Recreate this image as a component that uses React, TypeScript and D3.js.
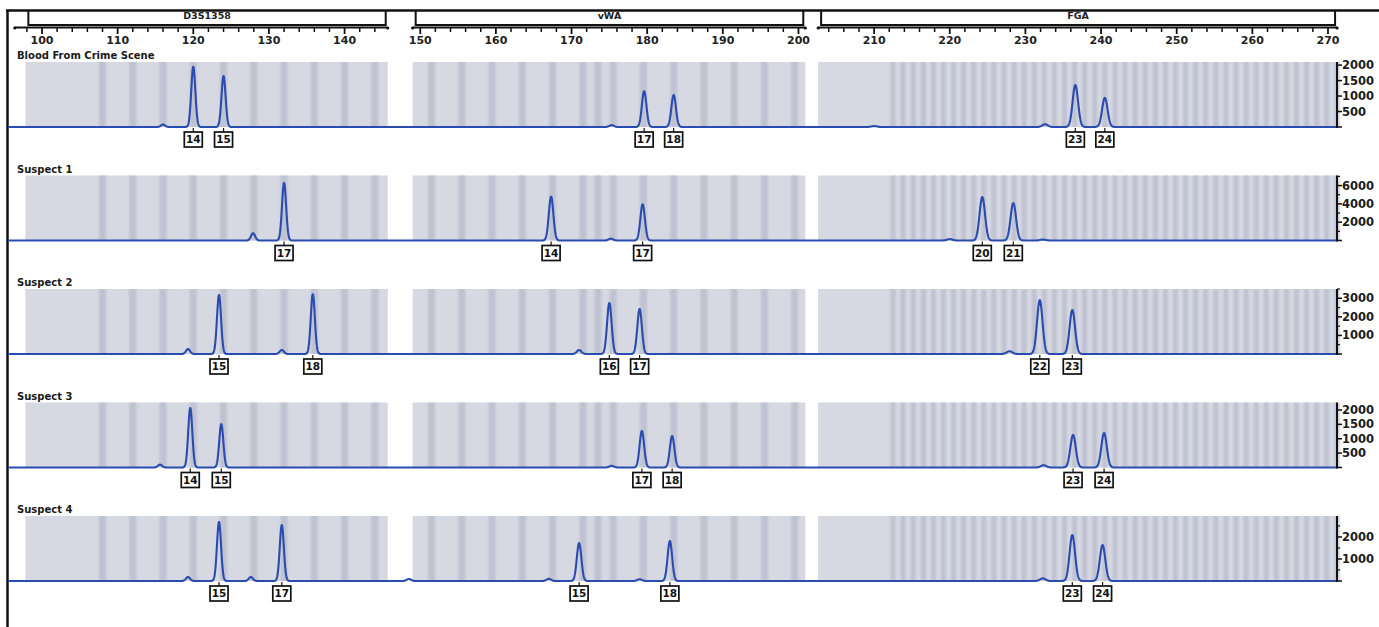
import * as d3 from "d3";

// loci shown in the three panels (bp ranges)
const loci = ["D3S1358", "vWA", "FGA"];
const segStart = [97.8, 149.0, 202.6];
const segEnd = [145.7, 200.9, 271.2];

// allele bins (bp) drawn as darker stripes
const d3sBins = [108, 112, 116, 120, 124, 128, 132, 136, 140, 144];
const vwaBins = [151.5, 155.5, 159.5, 163.5, 167.5, 171.5, 173.5, 175.5, 179.5, 183.5, 187.5, 191.5, 195.5, 199.5];
const fgaAlleles = [17, 18, 19, 20, 21, 22, 23, 24, 25, 26, 27, 28, 29, 30, 31];
const fgaOffsets = [0, 1.33, 2.67];

const rowNames = ["Blood From Crime Scene", "Suspect 1", "Suspect 2", "Suspect 3", "Suspect 4"];
const rowMax = [2100, 7100, 3500, 2260, 2950];
const rowTicks = [
  [500, 1000, 1500, 2000],
  [2000, 4000, 6000],
  [1000, 2000, 3000],
  [500, 1000, 1500, 2000],
  [1000, 2000],
];
const rowMinor = [[], [1000, 3000, 5000, 7000], [500, 1500, 2500, 3500], [], [500, 1500, 2500]];

// peaks: [size bp, height RFU, allele call]
const crimePeaks: [number, number, string][] = [
  [116.0, 80, ""], [120.0, 1950, "14"], [124.0, 1650, "15"],
  [175.3, 60, ""], [179.6, 1160, "17"], [183.5, 1030, "18"],
  [210.0, 30, ""], [232.6, 90, ""], [236.6, 1360, "23"], [240.5, 940, "24"],
];
const suspect1Peaks: [number, number, string][] = [
  [127.9, 800, ""], [132.0, 6300, "17"],
  [167.3, 4800, "14"], [175.2, 200, ""], [179.4, 3950, "17"],
  [220.0, 150, ""], [224.3, 4750, "20"], [228.4, 4100, "21"], [232.3, 100, ""],
];
const suspect2Peaks: [number, number, string][] = [
  [119.3, 270, ""], [123.4, 3180, "15"], [131.7, 220, ""], [135.8, 3230, "18"],
  [171.0, 215, ""], [175.0, 2750, "16"], [179.0, 2420, "17"],
  [227.9, 150, ""], [231.9, 2900, "22"], [236.2, 2370, "23"],
];
const suspect3Peaks: [number, number, string][] = [
  [115.6, 100, ""], [119.6, 2070, "14"], [123.7, 1510, "15"],
  [175.3, 60, ""], [179.3, 1270, "17"], [183.3, 1095, "18"],
  [232.4, 80, ""], [236.3, 1130, "23"], [240.4, 1200, "24"],
];
const suspect4Peaks: [number, number, string][] = [
  [119.3, 180, ""], [123.4, 2680, "15"], [127.6, 180, ""], [131.7, 2540, "17"], [148.5, 90, ""],
  [167.0, 100, ""], [171.0, 1725, "15"], [179.0, 80, ""], [183.0, 1815, "18"],
  [232.3, 120, ""], [236.2, 2090, "23"], [240.2, 1630, "24"],
];
const rowPeaks = [crimePeaks, suspect1Peaks, suspect2Peaks, suspect3Peaks, suspect4Peaks];

const topTicks = d3.range(100, 271, 10);
const minorTicks = d3.range(96, 272, 2);

const W = 1379;
const H = 627;
const rowTop0 = 62;
const rowStep = 113.5;
const rowH = 65;
const axisX = 1337;
const bold = "'DejaVu Sans', sans-serif";
const traceColor = "#2a4cb0";

const x = d3.scaleLinear().domain([100, 270]).range([42, 1328]);

// peak widths grow a little with fragment size
const sigmaFor = (bp: number) => (bp < 147 ? 0.27 : bp < 202 ? 0.3 : 0.36);

function segOf(bp: number) {
  return segStart.findIndex((s, i) => bp >= s && bp <= segEnd[i]);
}

const binsBySeg: number[][] = [
  d3sBins,
  vwaBins,
  fgaAlleles.flatMap((a) => fgaOffsets.map((o) => 144.5 + 4 * a + o)),
];

function Row({ i }: { i: number }) {
  const top = rowTop0 + i * rowStep;
  const base = top + rowH;
  const y = d3.scaleLinear().domain([0, rowMax[i]]).range([base, top]);
  const peaks = rowPeaks[i];
  const samples = d3.range(95.5, 271.2, 0.04);
  const line = d3
    .line<number>()
    .x((bp) => x(bp))
    .y((bp) => {
      let v = 0;
      for (const [c, h] of peaks) {
        const s = sigmaFor(c);
        v += h * Math.exp(-((bp - c) ** 2) / (2 * s * s));
      }
      return y(v);
    });

  return (
    <g>
      <text x={17} y={top - 3} fontFamily={bold} fontWeight="bold" fontSize={10} fill="#1a1a1a">
        {rowNames[i]}
      </text>
      {segStart.map((s, k) => (
        <rect key={"bg" + k} x={x(s)} y={top} width={x(segEnd[k]) - x(s)} height={rowH} fill="#d6d8e2" />
      ))}
      <g filter="url(#soft)">
        {binsBySeg.map((bins, k) =>
          bins
            .filter((b) => segOf(b) === k)
            .map((b, j) => (
              <rect
                key={"st" + k + "-" + j}
                x={x(b) - (k === 2 ? 2.5 : 3.5)}
                y={top}
                width={k === 2 ? 5 : 7}
                height={rowH}
                fill="#bfc2d0"
              />
            ))
        )}
      </g>
      <path d={line(samples) || ""} fill="none" stroke={traceColor} strokeWidth={2.1} strokeLinejoin="round" />
      {/* right axis */}
      <line x1={axisX} x2={axisX} y1={top} y2={base + 1} stroke="#111" strokeWidth={2} />
      <line x1={axisX} x2={axisX + 5} y1={base} y2={base} stroke="#111" strokeWidth={1.5} />
      {rowMinor[i].filter((t) => t <= rowMax[i]).map((t) => (
        <line key={"mn" + t} x1={axisX} x2={axisX + 3} y1={y(t)} y2={y(t)} stroke="#111" strokeWidth={1.2} />
      ))}
      {rowTicks[i].map((t) => (
        <g key={"tk" + t}>
          <line x1={axisX} x2={axisX + 5} y1={y(t)} y2={y(t)} stroke="#111" strokeWidth={1.5} />
          <text
            x={axisX + 5}
            y={y(t)}
            dy="0.35em"
            fontFamily={bold}
            fontWeight="bold"
            fontSize={11.5}
            fill="#1a1a1a"
          >
            {t}
          </text>
        </g>
      ))}
      {/* allele call boxes */}
      {peaks
        .filter((p) => p[2] !== "")
        .map(([bp, , lab]) => (
          <g key={"lb" + bp}>
            <line x1={x(bp)} x2={x(bp)} y1={base + 1} y2={base + 5} stroke="#111" strokeWidth={1.2} />
            <rect x={x(bp) - 9} y={base + 5} width={18} height={15} fill="#fff" stroke="#111" strokeWidth={1.7} />
            <text
              x={x(bp)}
              y={base + 12.8}
              dy="0.35em"
              textAnchor="middle"
              fontFamily={bold}
              fontWeight="bold"
              fontSize={10.5}
              fill="#111"
            >
              {lab}
            </text>
          </g>
        ))}
    </g>
  );
}

export default function App() {
  return (
    <svg
      width={W}
      height={H}
      style={{ position: "absolute", left: 0, top: 0, background: "#fff" }}
    >
      <defs>
        <filter id="soft" x="-5%" y="0" width="110%" height="100%">
          <feGaussianBlur stdDeviation="1.2 0" />
        </filter>
      </defs>
      {/* frame */}
      <line x1={6} x2={W} y1={10.5} y2={10.5} stroke="#111" strokeWidth={2.5} />
      <line x1={7.5} x2={7.5} y1={10} y2={H} stroke="#111" strokeWidth={2.5} />
      {/* locus brackets */}
      {loci.map((name, k) => {
        const x1 = x(segStart[k]) + 3;
        const x2 = x(segEnd[k]) - 2;
        return (
          <g key={name}>
            <path d={`M${x1},11 V25 H${x2} V11`} fill="none" stroke="#111" strokeWidth={2} />
            <text
              x={(x1 + x2) / 2}
              y={18}
              dy="0.15em"
              textAnchor="middle"
              fontFamily={bold}
              fontWeight="bold"
              fontSize={9.5}
              fill="#222"
            >
              {name}
            </text>
          </g>
        );
      })}
      {/* size ruler */}
      {segStart.map((s, k) => {
        const a = k === 0 ? 96.4 : s;
        const b = segEnd[k];
        return (
          <g key={"rl" + k}>
            <line x1={x(a)} x2={x(b)} y1={27.5} y2={27.5} stroke="#111" strokeWidth={2} />
            <circle cx={x(a)} cy={28} r={1.6} fill="#111" />
            <circle cx={x(b)} cy={28} r={1.6} fill="#111" />
          </g>
        );
      })}
      {minorTicks
        .filter((t) => segOf(t) >= 0)
        .map((t) => (
          <line
            key={"mt" + t}
            x1={x(t)}
            x2={x(t)}
            y1={27}
            y2={t % 10 === 0 ? 34 : 32}
            stroke="#111"
            strokeWidth={t % 10 === 0 ? 1.8 : 1.5}
          />
        ))}
      {topTicks.map((t) => (
        <text
          key={"tl" + t}
          x={x(t)}
          y={44}
          textAnchor="middle"
          fontFamily={bold}
          fontWeight="bold"
          fontSize={11}
          fill="#222"
        >
          {t}
        </text>
      ))}
      {rowNames.map((_, i) => (
        <Row key={i} i={i} />
      ))}
    </svg>
  );
}
